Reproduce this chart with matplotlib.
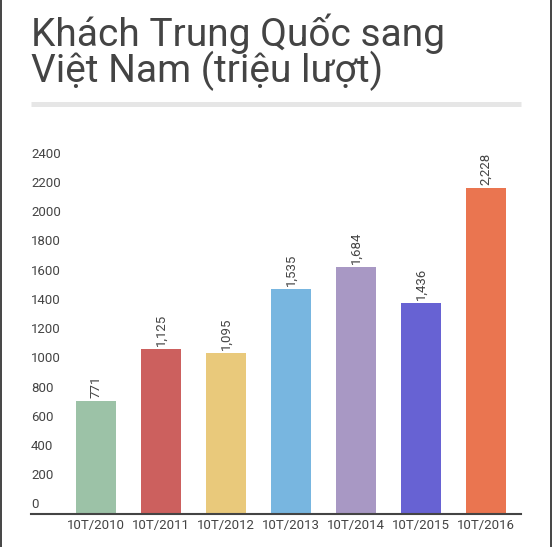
import matplotlib.pyplot as plt
from matplotlib.lines import Line2D

plt.rcParams['font.family'] = ['Roboto', 'DejaVu Sans']

# du lieu
years = ['10T/2010', '10T/2011', '10T/2012', '10T/2013', '10T/2014', '10T/2015', '10T/2016']
values = [771, 1125, 1095, 1535, 1684, 1436, 2228]
colors = ['#9cc2a7', '#cc605e', '#e9c97b', '#78b6e0', '#a898c4', '#6762d3', '#ea7550']
yticks = [0, 200, 400, 600, 800, 1000, 1200, 1400, 1600, 1800, 2000, 2200, 2400]

W, H = 552, 547
fig = plt.figure(figsize=(W / 100, H / 100), dpi=100)
text_col = '#444444'

# vung ve: truc x tu 31 den 521 px, goc 0 o y=513.5 px
ax = fig.add_axes([31 / W, (H - 513.5) / H, 490 / W, 365.6 / H])
x = list(range(len(years)))
ax.bar(x, values, width=0.615, color=colors)
ax.set_xlim(-1.0, 6.54)
ax.set_ylim(0, 2500)

for s in ['top', 'right', 'left']:
    ax.spines[s].set_visible(False)
ax.spines['bottom'].set_color(text_col)
ax.spines['bottom'].set_linewidth(1.5)

ax.set_xticks(x, years)
ax.tick_params(axis='x', length=0, pad=4.2, labelsize=9.5, labelcolor=text_col)
ax.set_yticks([])

# nhan truc y nam phia tren vi tri cua no
for t in yticks:
    ax.annotate(str(t), xy=(0, t), xycoords=('axes fraction', 'data'),
                xytext=(0, 3.6), textcoords='offset points',
                ha='left', va='baseline', fontsize=9.5, color=text_col)

# nhan gia tri tren cot
for i, v in enumerate(values):
    ax.annotate(f'{v:,}', xy=(i, v), xytext=(0, 2.2), textcoords='offset points',
                ha='center', va='bottom', rotation=90, fontsize=9.5, color=text_col)

# tieu de
fig.text(31 / W, (H - 46) / H, 'Khách Trung Quốc sang', fontsize=28,
         fontweight='normal', color=text_col, va='baseline', ha='left')
fig.text(31 / W, (H - 81.7) / H, 'Việt Nam (triệu lượt)', fontsize=28,
         fontweight='normal', color=text_col, va='baseline', ha='left')

# duong ke duoi tieu de
fig.add_artist(Line2D([31 / W, 521 / W], [(H - 103.5) / H] * 2,
                      color='#e6e6e6', lw=3.6, solid_capstyle='butt'))
# vien trai / phai
fig.add_artist(Line2D([0.8 / W] * 2, [0, 1], color=text_col, lw=1.4))
fig.add_artist(Line2D([550.6 / W] * 2, [0, 1], color=text_col, lw=1.4))

fig.savefig('out.png', dpi=100)
